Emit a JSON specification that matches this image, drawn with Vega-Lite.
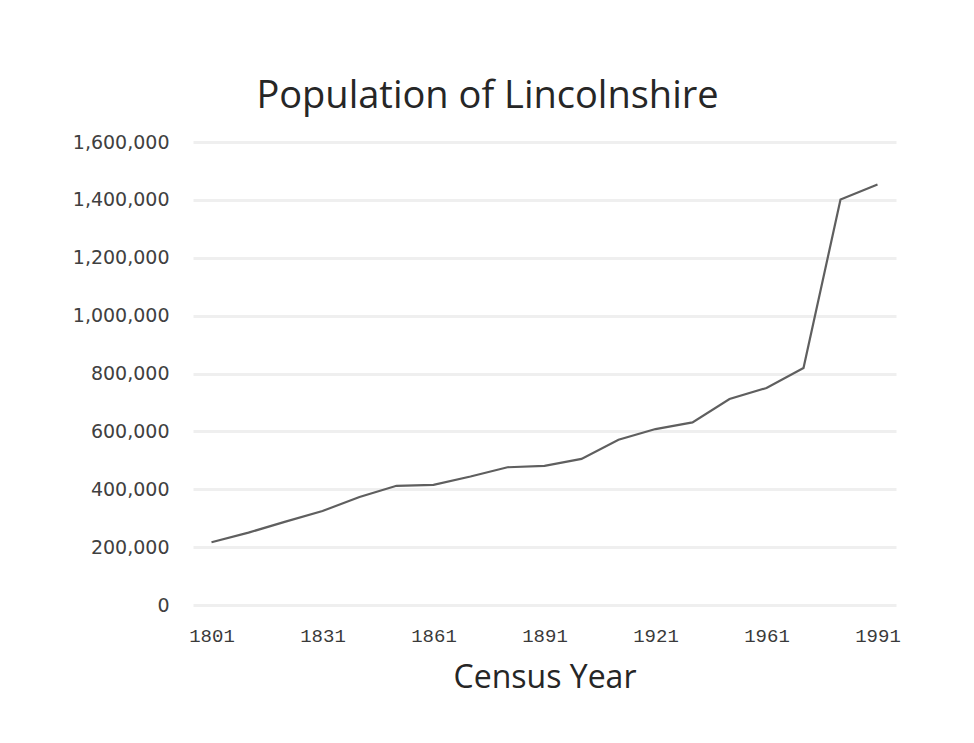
{
  "$schema": "https://vega.github.io/schema/vega-lite/v6.json",
  "autosize": {"type": "none"},
  "padding": {"left": 193, "top": 142, "right": 78, "bottom": 138},
  "width": 703,
  "height": 463,
  "background": "white",
  "title": {
    "text": "Population of Lincolnshire",
    "font": "Open Sans",
    "fontSize": 38,
    "fontWeight": "normal",
    "color": "#262626",
    "anchor": "middle",
    "dx": -57,
    "offset": 17
  },
  "data": {
    "values": [
      {"year": "1801", "population": 217000},
      {"year": "1811", "population": 250000},
      {"year": "1821", "population": 288000},
      {"year": "1831", "population": 325000},
      {"year": "1841", "population": 373000},
      {"year": "1851", "population": 412000},
      {"year": "1861", "population": 415000},
      {"year": "1871", "population": 444000},
      {"year": "1881", "population": 476000},
      {"year": "1891", "population": 481000},
      {"year": "1901", "population": 505000},
      {"year": "1911", "population": 571000},
      {"year": "1921", "population": 608000},
      {"year": "1931", "population": 631000},
      {"year": "1951", "population": 712000},
      {"year": "1961", "population": 750000},
      {"year": "1971", "population": 819000},
      {"year": "1981", "population": 1401000},
      {"year": "1991", "population": 1453000}
    ]
  },
  "mark": {"type": "line", "color": "#5f5f5f", "strokeWidth": 2.2},
  "encoding": {
    "x": {
      "field": "year",
      "type": "ordinal",
      "scale": {"type": "point", "padding": 0.5},
      "axis": {
        "title": "Census Year",
        "values": ["1801", "1831", "1861", "1891", "1921", "1961", "1991"],
        "labelAngle": 0,
        "labelFont": "Liberation Mono",
        "labelFontSize": 19,
        "labelColor": "#3a3a3a",
        "labelPadding": 21,
        "domain": false,
        "ticks": false,
        "grid": false,
        "titleFont": "Open Sans",
        "titleFontSize": 32,
        "titleFontWeight": "normal",
        "titleColor": "#262626",
        "titlePadding": 17
      }
    },
    "y": {
      "field": "population",
      "type": "quantitative",
      "scale": {"domain": [0, 1600000], "nice": false},
      "axis": {
        "title": null,
        "values": [0, 200000, 400000, 600000, 800000, 1000000, 1200000, 1400000, 1600000],
        "format": ",d",
        "labelFont": "DejaVu Sans",
        "labelFontSize": 19,
        "labelColor": "#404040",
        "labelPadding": 24,
        "domain": false,
        "ticks": false,
        "grid": true,
        "gridColor": "#efefef",
        "gridWidth": 3
      }
    }
  },
  "config": {"view": {"stroke": null}}
}
